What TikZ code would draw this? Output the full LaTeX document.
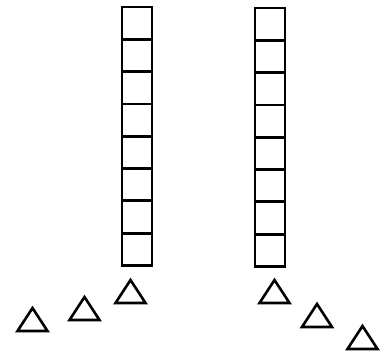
\documentclass[tikz,border=0pt]{standalone}
\usetikzlibrary{positioning}
\tikzset{
  stack cell/.style={draw=black, fill=white, line width=2.8pt,
    minimum width=30pt, minimum height=32.3pt, inner sep=0pt, outer sep=0pt},
  cone marker/.style={draw=black, line width=2.6pt, line join=miter}
}

\begin{document}
\begin{tikzpicture}[x=1pt, y=-1pt]
\useasboundingbox (0,0) rectangle (389,354);
% two columns of eight cells
\node[stack cell] (L1) at (137,23.2) {};
\node[stack cell] (R1) at (270,24.2) {};
\foreach \i [count=\j from 2] in {1,...,7} {
  \node[stack cell, below=0pt of L\i] (L\j) {};
  \node[stack cell, below=0pt of R\i] (R\j) {};
}
% markers on the floor (base centre x, base y)
\foreach \x/\y in {32.5/331, 84.5/320, 130.5/303, 274.5/303, 317/327, 362.5/349}
  \draw[cone marker] (\x-15,\y) -- (\x,\y-23) -- (\x+15,\y) -- cycle;
\end{tikzpicture}
\end{document}
